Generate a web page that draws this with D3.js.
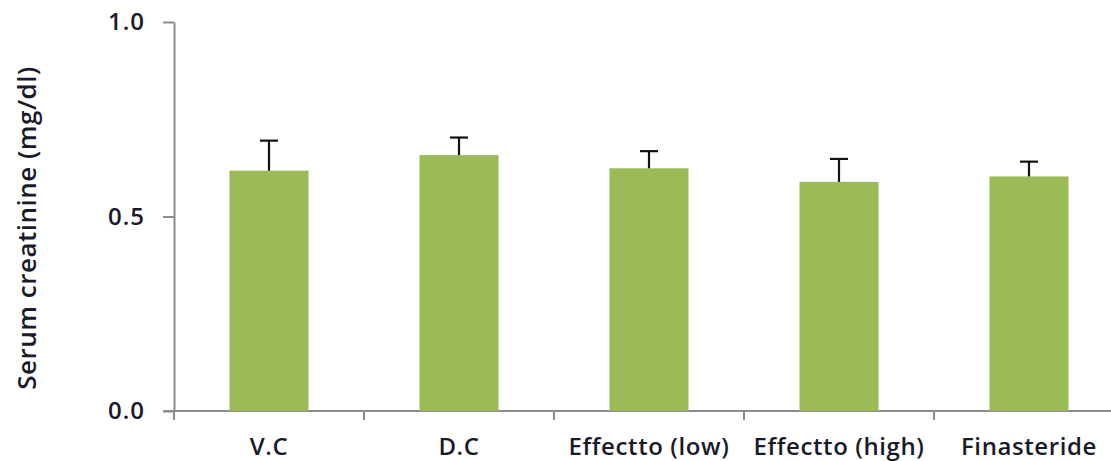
<!DOCTYPE html>
<html>
<head>
<meta charset="utf-8">
<script src="https://cdn.jsdelivr.net/npm/d3@7"></script>
<style>
  body { margin: 0; background: #fff; }
  svg text { font-family: "Open Sans", sans-serif; font-weight: 600; fill: #1a1a2a; }
</style>
</head>
<body>
<div id="chart"></div>
<script>
// data
const groups = ["V.C", "D.C", "Effectto (low)", "Effectto (high)", "Finasteride"];
const means = [0.618, 0.658, 0.624, 0.589, 0.603];
const errors = [0.077, 0.045, 0.044, 0.059, 0.038];
const yTicks = [0.0, 0.5, 1.0];

const W = 1111, H = 461;
const svg = d3.select("#chart")
    .append("svg")
    .attr("width", W)
    .attr("height", H);

// scales
const x = d3.scaleBand()
    .domain(groups)
    .range([174, 1124])
    .paddingInner(0.584)
    .paddingOuter(0.292);

const y = d3.scaleLinear()
    .domain([0, 1])
    .range([411, 22]);

// y axis
const yAxis = svg.append("g")
    .attr("transform", "translate(174,0)")
    .call(d3.axisLeft(y).tickValues(yTicks).tickFormat(d3.format(".1f")).tickSize(11).tickSizeOuter(0));
yAxis.select(".domain").attr("stroke", "#8c8c8c").attr("stroke-width", 2);
yAxis.selectAll(".tick line").attr("stroke", "#8c8c8c").attr("stroke-width", 2);
yAxis.selectAll(".tick text")
    .attr("x", -29)
    .style("font-size", "24px")
    .style("letter-spacing", "1px");

// x axis line and tick marks between categories
svg.append("line")
    .attr("x1", 163).attr("x2", 1124)
    .attr("y1", y(0)).attr("y2", y(0))
    .attr("stroke", "#8c8c8c").attr("stroke-width", 2);

const gap = (x.step() - x.bandwidth()) / 2;
svg.selectAll(".xtick")
    .data(groups)
    .enter()
    .append("line")
    .attr("class", "xtick")
    .attr("x1", d => x(d) - gap).attr("x2", d => x(d) - gap)
    .attr("y1", y(0)).attr("y2", y(0) + 9)
    .attr("stroke", "#8c8c8c").attr("stroke-width", 2);

svg.selectAll(".xlabel")
    .data(groups)
    .enter()
    .append("text")
    .attr("class", "xlabel")
    .attr("x", d => x(d) + x.bandwidth() / 2)
    .attr("y", 455)
    .attr("text-anchor", "middle")
    .style("font-size", "24px")
    .style("letter-spacing", "0.6px")
    .text(d => d);

// bars
svg.selectAll(".bar")
    .data(groups)
    .enter()
    .append("rect")
    .attr("class", "bar")
    .attr("x", d => x(d))
    .attr("y", (d, i) => y(means[i]))
    .attr("width", x.bandwidth())
    .attr("height", (d, i) => y(0) - y(means[i]))
    .attr("fill", "#9bbb59");

// error bars (upper only)
const eb = svg.selectAll(".err")
    .data(groups)
    .enter()
    .append("g")
    .attr("class", "err")
    .attr("stroke", "#111")
    .attr("stroke-width", 2.2);
eb.append("line")
    .attr("x1", d => x(d) + x.bandwidth() / 2)
    .attr("x2", d => x(d) + x.bandwidth() / 2)
    .attr("y1", (d, i) => y(means[i]))
    .attr("y2", (d, i) => y(means[i] + errors[i]));
eb.append("line")
    .attr("x1", d => x(d) + x.bandwidth() / 2 - 9)
    .attr("x2", d => x(d) + x.bandwidth() / 2 + 9)
    .attr("y1", (d, i) => y(means[i] + errors[i]))
    .attr("y2", (d, i) => y(means[i] + errors[i]));

// y title
svg.append("text")
    .attr("transform", "translate(36,228) rotate(-90)")
    .attr("text-anchor", "middle")
    .style("font-size", "26px")
    .style("letter-spacing", "0.5px")
    .text("Serum creatinine (mg/dl)");
</script>
</body>
</html>
